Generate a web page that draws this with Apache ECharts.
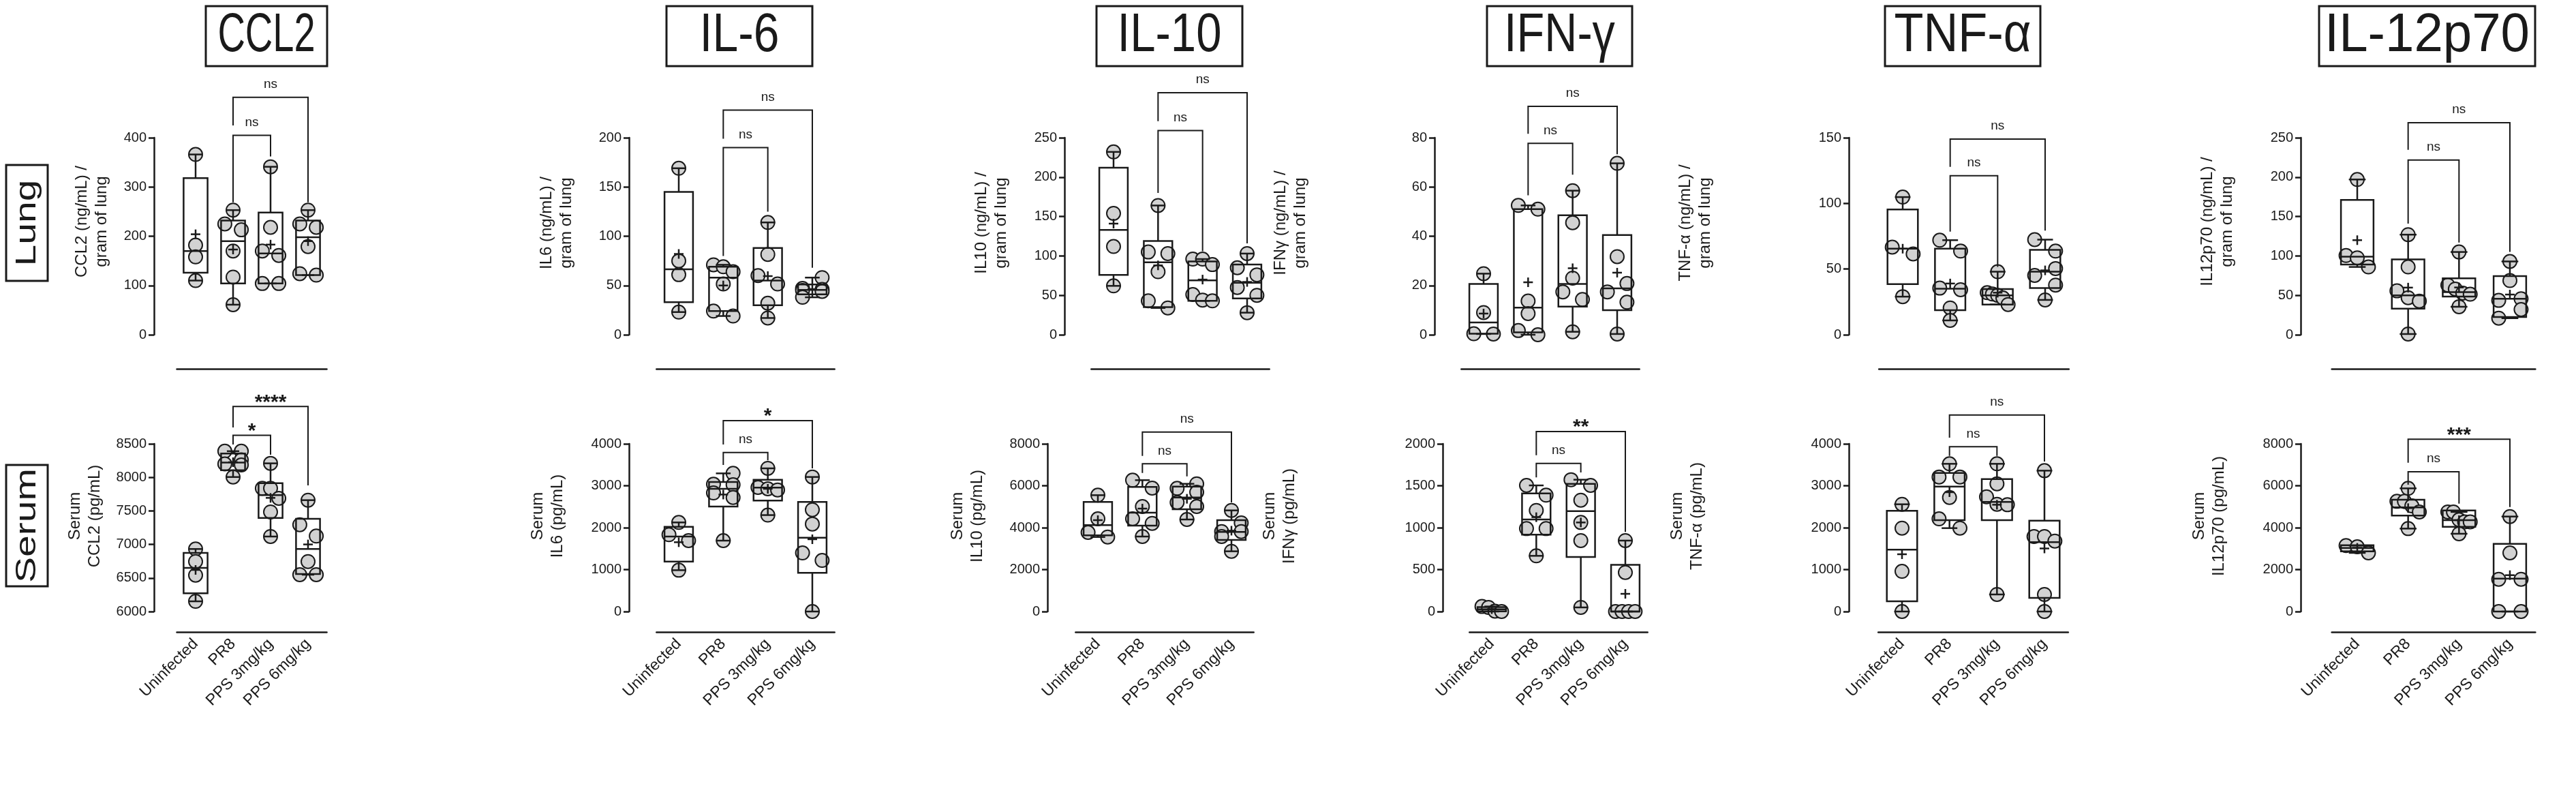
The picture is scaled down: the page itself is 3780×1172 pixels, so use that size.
<!DOCTYPE html>
<html>
<head>
<meta charset="utf-8">
<script src="https://cdn.jsdelivr.net/npm/echarts@6.0.0/dist/echarts.min.js"></script>
<style>
html, body { margin: 0; padding: 0; background: #fff; }
#chart { width: 3780px; height: 1172px; }
</style>
</head>
<body>
<div id="chart"></div>
<script>
const groups = ['Uninfected', 'PR8', 'PPS 3mg/kg', 'PPS 6mg/kg']
const cytokines = ['CCL2', 'IL-6', 'IL-10', 'IFN-γ', 'TNF-α', 'IL-12p70']
const lungNames = ['CCL2 (ng/mL) /\ngram of lung', 'IL6 (ng/mL) /\ngram of lung', 'IL10 (ng/mL) /\ngram of lung',
  'IFNγ (ng/mL) /\ngram of lung', 'TNF-α (ng/mL) /\ngram of lung', 'IL12p70 (ng/mL) /\ngram of lung']
const serumNames = ['Serum\nCCL2 (pg/mL)', 'Serum\nIL6 (pg/mL)', 'Serum\nIL10 (pg/mL)',
  'Serum\nIFNγ (pg/mL)', 'Serum\nTNF-α (pg/mL)', 'Serum\nIL12p70 (pg/mL)']

// axis ranges
const lungMax = [400, 200, 250, 80, 150, 250]
const lungStep = [100, 50, 50, 20, 50, 50]
const serumMin = [6000, 0, 0, 0, 0, 0]
const serumMax = [8500, 4000, 8000, 2000, 4000, 8000]
const serumStep = [500, 1000, 2000, 500, 1000, 2000]

// per group: individual animals, box [q1, median, q3], mean, brackets [from, to, bar, leftLeg, rightLeg, label]
const lungCCL2Pts = [[366, 182, 158, 110], [253, 225, 213, 170, 117, 61], [341, 218, 170, 161, 104, 104], [253, 225, 218, 179, 124, 121]]
const lungCCL2Box = [[126, 170, 318], [104, 190, 232], [104, 165, 248], [121, 198, 232]]
const lungCCL2Mean = [204, 173, 183, 190]
const lungCCL2Sig = [[1, 2, 405, 269, 362, 'ns'], [1, 3, 482, 425, 269, 'ns']]

const lungIL6Pts = [[169, 75, 61, 23], [71, 69, 64, 51.5, 24, 19], [114, 81.5, 60, 51.5, 32, 17], [58, 47, 46, 45, 44, 38]]
const lungIL6Box = [[33, 66.5, 145], [24, 58, 69], [30, 55, 88], [41, 45.5, 51]]
const lungIL6Mean = [82, 50, 59.5, 46.3]
const lungIL6Sig = [[1, 2, 190, 80, 125, 'ns'], [1, 3, 228, 199, 68, 'ns']]

const lungIL10Pts = [[232, 154, 112, 62], [164, 105, 103, 80, 43, 34], [96, 96, 89, 51, 44, 43], [103, 85, 76, 60, 50, 28]]
const lungIL10Box = [[76, 133, 212], [35, 92, 119], [43, 69, 93], [46, 66, 89]]
const lungIL10Mean = [141, 88, 70, 67]
const lungIL10Sig = [[1, 2, 259, 180, 106, 'ns'], [1, 3, 307, 271, 116, 'ns']]

const lungIFNgPts = [[24.8, 9, 0.4, 0.3], [52.5, 51, 13.7, 8.6, 1.7, 0], [58.5, 45.5, 23, 17.4, 14.3, 1.2], [69.6, 31.7, 20.8, 17.4, 13.2, 0.3]]
const lungIFNgBox = [[0.4, 5, 20.6], [1, 11, 51], [11.4, 20.6, 48.5], [10, 18.8, 40.5]]
const lungIFNgMean = [8.6, 21.3, 27, 25.2]
const lungIFNgSig = [[1, 2, 77.7, 56.6, 65, 'ns'], [1, 3, 92.7, 81.6, 73.3, 'ns']]

const lungTNFaPts = [[104.8, 66.7, 61.5, 29], [72, 63.7, 35.5, 34.3, 20.4, 10.9], [48, 32, 31, 30, 28, 23], [72.4, 63.7, 50.4, 45.2, 37.8, 26.5]]
const lungTNFaBox = [[38.6, 65.5, 95.4], [18.7, 35, 65.5], [23, 30, 34.8], [35.5, 48, 64.6]]
const lungTNFaMean = [65.5, 39, 32, 49]
const lungTNFaSig = [[1, 2, 121, 78.5, 51.6, 'ns'], [1, 3, 149, 127.8, 79.3, 'ns']]

const lungIL12Pts = [[197, 100.5, 97.6, 86], [127, 86, 55.7, 47, 42.7, 0.9], [105, 63, 58, 52.8, 51.4, 35.5], [93, 68.7, 45.6, 43.6, 32, 21]]
const lungIL12Box = [[89, 99, 171], [33, 50, 95.6], [48.5, 54, 71.6], [22.5, 45.6, 74.5]]
const lungIL12Mean = [120, 59.8, 60, 51]
const lungIL12Sig = [[1, 2, 221.7, 141, 117, 'ns'], [1, 3, 269, 234.7, 105, 'ns']]

const serumCCL2Pts = [[6932, 6745, 6542, 6152], [8390, 8390, 8260, 8200, 8185, 8005], [8209, 7836, 7836, 7687, 7484, 7118], [7660, 7294, 7125, 6745, 6549, 6549]]
const serumCCL2Box = [[6271, 6650, 6874], [8107, 8220, 8355], [7396, 7735, 7914], [6559, 6932, 7382]]
const serumCCL2Mean = [6620, 8226, 7694, 7000]
const serumCCL2Sig = [[1, 2, 8626, 8490, 8338, '*'], [1, 3, 9056, 8744, 7880, '****']]

const serumIL6Pts = [[2125, 1832, 1691, 986], [3295, 3035, 3024, 2829, 2721, 1691], [3415, 2960, 2927, 2900, 2300], [3209, 2428, 2087, 1398, 1219, 0]]
const serumIL6Box = [[1192, 1789, 2022], [2504, 2927, 3089], [2645, 2954, 3144], [921, 1762, 2612]]
const serumIL6Mean = [1653, 2790, 2927, 1724]
const serumIL6Sig = [[1, 2, 3794, 3496, 3604, 'ns'], [1, 3, 4553, 3984, 3415, '*']]

const serumIL10Pts = [[5550, 4423, 3772, 3555], [6266, 5886, 5008, 4423, 4206, 3577], [6092, 5875, 5691, 5203, 5008, 4390], [4824, 4228, 3816, 3816, 3577, 2873]]
const serumIL10Box = [[3631, 4119, 5225], [4098, 4715, 5940], [4878, 5442, 5962], [3415, 3794, 4358]]
const serumIL10Mean = [4358, 4910, 5377, 3856]
const serumIL10Sig = [[1, 2, 7046, 6612, 6450, 'ns'], [1, 3, 8564, 7425, 5203, 'ns']]

const serumIFNgPts = [[60, 49, 5, 0], [1504, 1388, 1206, 989, 989, 664], [1572, 1504, 1328, 1062, 846, 49], [846, 466, 0, 0, 0, 0]]
const serumIFNgBox = [[3, 27, 52], [916, 1098, 1409], [650, 1198, 1523], [0, 0, 556]]
const serumIFNgMean = [28, 1125, 1062, 211]
const serumIFNgSig = [[1, 2, 1767, 1599, 1659, 'ns'], [1, 3, 2146, 1864, 949, '**']]

const serumTNFaPts = [[2558, 1989, 959, 0], [3523, 3209, 3209, 2721, 2211, 1989], [3523, 3046, 2737, 2558, 2547, 407], [3360, 1789, 1789, 1680, 407, 0]]
const serumTNFaBox = [[244, 1474, 2401], [2179, 2981, 3306], [2179, 2612, 3160], [325, 1653, 2168]]
const serumTNFaMean = [1366, 2846, 2547, 1504]
const serumTNFaSig = [[1, 2, 3930, 3713, 3713, 'ns'], [1, 3, 4688, 4146, 3577, 'ns']]

const serumIL12Pts = [[3144, 3089, 2797], [5875, 5257, 5257, 5040, 4748, 3956], [4750, 4750, 4380, 4280, 4280, 3710], [4531, 2797, 1539, 1539, 0, 0]]
const serumIL12Box = [[2873, 3035, 3165], [4574, 4965, 5333], [4043, 4358, 4824], [0, 1572, 3230]]
const serumIL12Mean = [3035, 4932, 4358, 1734]
const serumIL12Sig = [[1, 2, 6667, 6049, 5149, 'ns'], [1, 3, 8217, 7100, 4986, '***']]

const panels = [
  { pts: lungCCL2Pts, box: lungCCL2Box, mean: lungCCL2Mean, sig: lungCCL2Sig },
  { pts: lungIL6Pts, box: lungIL6Box, mean: lungIL6Mean, sig: lungIL6Sig },
  { pts: lungIL10Pts, box: lungIL10Box, mean: lungIL10Mean, sig: lungIL10Sig },
  { pts: lungIFNgPts, box: lungIFNgBox, mean: lungIFNgMean, sig: lungIFNgSig },
  { pts: lungTNFaPts, box: lungTNFaBox, mean: lungTNFaMean, sig: lungTNFaSig },
  { pts: lungIL12Pts, box: lungIL12Box, mean: lungIL12Mean, sig: lungIL12Sig },
  { pts: serumCCL2Pts, box: serumCCL2Box, mean: serumCCL2Mean, sig: serumCCL2Sig },
  { pts: serumIL6Pts, box: serumIL6Box, mean: serumIL6Mean, sig: serumIL6Sig },
  { pts: serumIL10Pts, box: serumIL10Box, mean: serumIL10Mean, sig: serumIL10Sig },
  { pts: serumIFNgPts, box: serumIFNgBox, mean: serumIFNgMean, sig: serumIFNgSig },
  { pts: serumTNFaPts, box: serumTNFaBox, mean: serumTNFaMean, sig: serumTNFaSig },
  { pts: serumIL12Pts, box: serumIL12Box, mean: serumIL12Mean, sig: serumIL12Sig },
]

// layout (pixels): y axis x, first/last group centre, axis name centre
const layout = [
  [226, 287, 452, 135, 325], [923, 996, 1192, 817, 327], [1562, 1634, 1830, 1455, 327],
  [2105, 2177, 2373, 1894, 327], [2713, 2792, 3001, 2488, 327], [3376, 3459, 3683, 3254, 325],
  [226, 287, 452, 125, 757], [923, 996, 1192, 804, 757], [1537, 1611, 1807, 1420, 757],
  [2117, 2189, 2385, 1878, 757], [2713, 2791, 3000, 2476, 757], [3376, 3459, 3683, 3242, 757],
]
const rows = [{ top: 202, bottom: 491, xLine: 541 }, { top: 651, bottom: 897, xLine: 927 }]
const titleBoxes = [[302, 480, 138], [978, 1192, 108], [1609, 1823, 145], [2182, 2395, 157], [2766, 2994, 198], [3403, 3720, 292]]

const INK = '#1a1a1a'
const FONT = '"Liberation Sans", Arial, sans-serif'

function boxRender(panel) {
  return function (params, api) {
    const g = api.value(0)
    const q1 = api.value(1), med = api.value(2), q3 = api.value(3), mean = api.value(4)
    const vals = panel.pts[g]
    const band = api.size([1, 0])[0]
    const cx = api.coord([g, med])[0]
    const py = (v) => api.coord([g, v])[1]
    const hw = band * 0.32, cw = band * 0.165, span = band * 0.44
    const lo = Math.min(...vals), hi = Math.max(...vals)
    const kids = []

    // spread the points that sit too close to each other
    const ys = vals.map(py).sort((a, b) => a - b)
    const clusters = []
    ys.forEach((y) => {
      const last = clusters[clusters.length - 1]
      if (last && y - last[last.length - 1] < 17) last.push(y)
      else clusters.push([y])
    })
    clusters.forEach((cl) => {
      const n = cl.length, ext = cl[n - 1] - cl[0]
      cl.forEach((y, i) => {
        let dx = 0
        if (n > 1) dx = ext > 20 ? (i % 2 ? -1 : 1) * span / 2 : (i / (n - 1) - 0.5) * span
        kids.push({ type: 'circle', shape: { cx: cx + dx, cy: y, r: 10 }, style: { fill: '#d2d2d2', stroke: INK, lineWidth: 2 } })
      })
    })

    const line = (x1, y1, x2, y2) => ({ type: 'line', shape: { x1, y1, x2, y2 }, style: { stroke: INK, lineWidth: 2.5 } })
    kids.push(line(cx, py(q3), cx, py(hi)))
    kids.push(line(cx, py(q1), cx, py(lo)))
    kids.push(line(cx - cw, py(hi), cx + cw, py(hi)))
    kids.push(line(cx - cw, py(lo), cx + cw, py(lo)))
    kids.push({ type: 'rect', shape: { x: cx - hw, y: py(q3), width: 2 * hw, height: py(q1) - py(q3) },
      style: { fill: 'rgba(0,0,0,0)', stroke: INK, lineWidth: 2.5 } })
    kids.push(line(cx - hw, py(med), cx + hw, py(med)))
    const my = py(mean)
    kids.push(line(cx - 7, my, cx + 7, my))
    kids.push(line(cx, my - 7, cx, my + 7))
    return { type: 'group', children: kids }
  }
}

function sigRender(panel) {
  return function (params, api) {
    const a = api.value(0), b = api.value(1), bar = api.value(2), la = api.value(3), lb = api.value(4)
    const label = panel.sig[params.dataIndex][5]
    const pa = api.coord([a, la]), pt = api.coord([a, bar]), pe = api.coord([b, lb])
    const star = label !== 'ns'
    return {
      type: 'group',
      children: [
        { type: 'polyline', shape: { points: [pa, [pa[0], pt[1]], [pe[0], pt[1]], pe] }, style: { stroke: INK, lineWidth: 2, fill: null } },
        { type: 'text', x: (pa[0] + pe[0]) / 2, y: pt[1] - (star ? 6 : 19),
          style: { text: label, font: (star ? 'bold 30px ' : '19px ') + FONT, fill: INK, align: 'center', verticalAlign: 'middle' } },
      ],
    }
  }
}

const grids = [], xAxes = [], yAxes = [], series = [], graphics = []
const ctx = document.createElement('canvas').getContext('2d')

panels.forEach((panel, i) => {
  const serum = i >= 6
  const c = i % 6
  const row = rows[serum ? 1 : 0]
  const [axisX, c0, c3, nameX, nameY] = layout[i]
  const band = (c3 - c0) / 3
  const left = c0 - band / 2
  grids.push({ left, top: row.top, width: band * 4, height: row.bottom - row.top, containLabel: false, outerBoundsMode: 'none' })
  xAxes.push({
    type: 'category', gridIndex: i, data: groups, offset: row.xLine - row.bottom,
    axisLine: { onZero: false, lineStyle: { color: INK, width: 2.5 } },
    axisTick: { alignWithLabel: true, interval: 0, length: 10, lineStyle: { color: INK, width: 2.5 } },
    axisLabel: { show: serum, interval: 0, rotate: 45, fontSize: 23, margin: 14, color: INK, fontFamily: FONT },
    splitLine: { show: false },
  })
  yAxes.push({
    type: 'value', gridIndex: i, offset: left - axisX,
    min: serum ? serumMin[c] : 0, max: serum ? serumMax[c] : lungMax[c], interval: serum ? serumStep[c] : lungStep[c],
    axisLine: { show: true, onZero: false, lineStyle: { color: INK, width: 2.5 } },
    axisTick: { show: true, length: 8, lineStyle: { color: INK, width: 2.5 } },
    axisLabel: { fontSize: 20, margin: 11, color: INK, fontFamily: FONT, formatter: (v) => String(v) },
    splitLine: { show: false },
  })
  series.push({
    type: 'custom', xAxisIndex: i, yAxisIndex: i, clip: false, silent: true,
    renderItem: boxRender(panel),
    data: panel.box.map((b, g) => [g, b[0], b[1], b[2], panel.mean[g]]),
  })
  series.push({
    type: 'custom', xAxisIndex: i, yAxisIndex: i, clip: false, silent: true, z: 3,
    renderItem: sigRender(panel),
    data: panel.sig.map((s) => s.slice(0, 5)),
  })
  graphics.push({
    type: 'text', x: nameX, y: nameY, rotation: Math.PI / 2,
    style: { text: serum ? serumNames[c] : lungNames[c], font: '24px ' + FONT, fill: INK, align: 'center', verticalAlign: 'middle', lineHeight: 29 },
  })
})

// column titles in boxes
cytokines.forEach((t, c) => {
  const [x0, x1, ink] = titleBoxes[c]
  ctx.font = '80px "Liberation Sans"'
  const m = ctx.measureText(t)
  const w = (m.actualBoundingBoxLeft + m.actualBoundingBoxRight) || m.width
  graphics.push({ type: 'rect', shape: { x: x0, y: 9, width: x1 - x0, height: 88 }, style: { fill: '#fff', stroke: INK, lineWidth: 3 } })
  graphics.push({ type: 'text', x: (x0 + x1) / 2, y: 53, scaleX: ink / w,
    style: { text: t, font: '80px ' + FONT, fill: INK, align: 'center', verticalAlign: 'middle' } })
})

// row labels
;[['Lung', 242, 170], ['Serum', 682, 178]].forEach(([t, y0, h]) => {
  graphics.push({ type: 'rect', shape: { x: 9, y: y0, width: 61, height: h }, style: { fill: '#fff', stroke: INK, lineWidth: 3 } })
  graphics.push({ type: 'text', x: 40, y: y0 + h / 2, rotation: Math.PI / 2, scaleY: 0.75,
    style: { text: t, font: '57px ' + FONT, fill: INK, align: 'center', verticalAlign: 'middle' } })
})

const chart = echarts.init(document.getElementById('chart'), null, { renderer: 'canvas' })
chart.setOption({
  animation: false,
  backgroundColor: '#fff',
  textStyle: { fontFamily: FONT },
  grid: grids,
  xAxis: xAxes,
  yAxis: yAxes,
  series,
  graphic: graphics,
})
</script>
</body>
</html>
